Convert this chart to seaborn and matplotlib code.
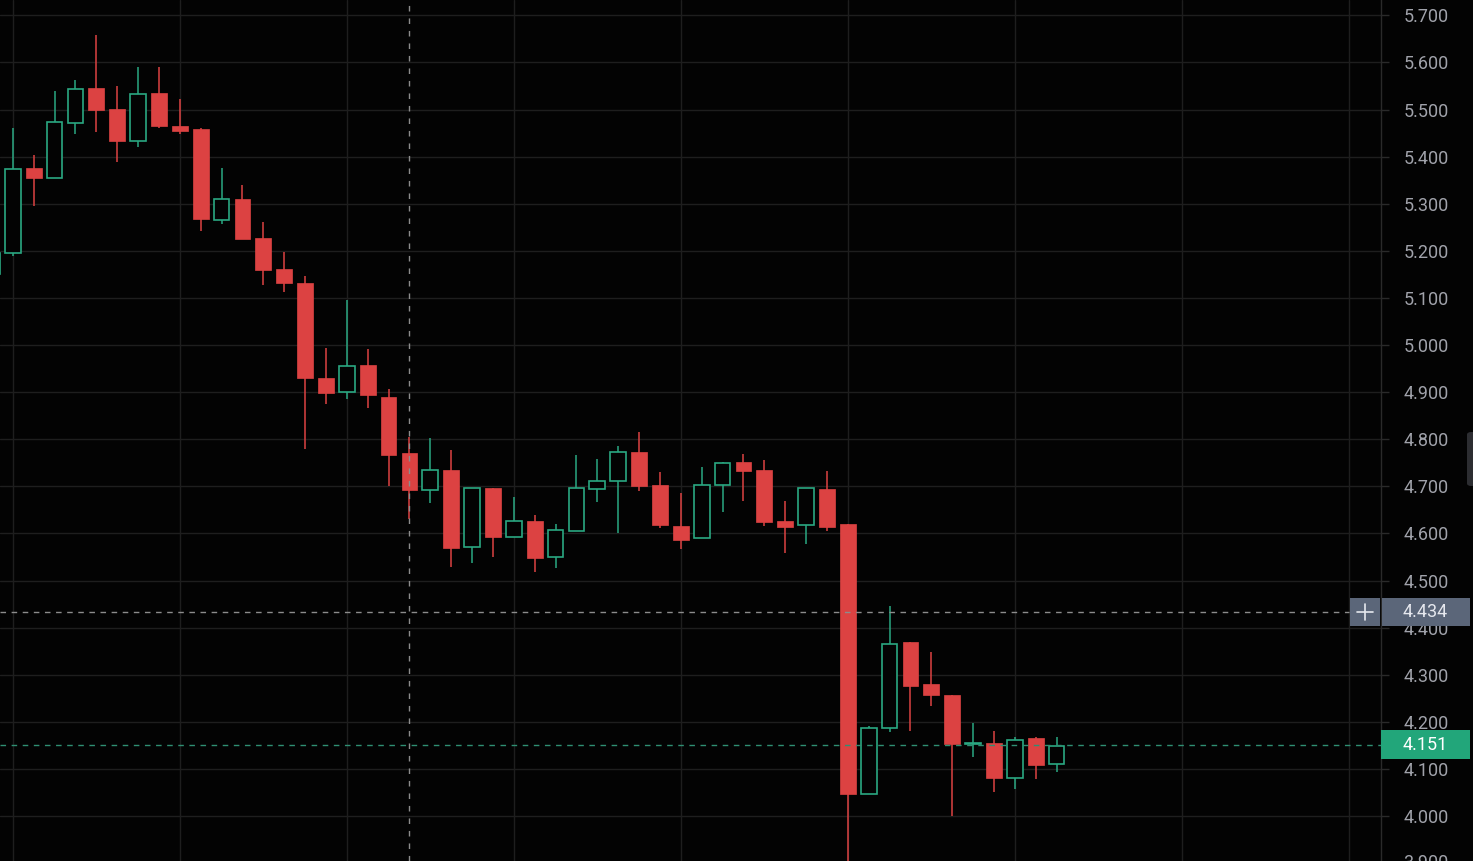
import numpy as np
import pandas as pd
import matplotlib
matplotlib.use("Agg")
import matplotlib.pyplot as plt
import seaborn as sns
from matplotlib.patches import Rectangle, FancyBboxPatch
from matplotlib.transforms import blended_transform_factory

# ---- data (OHLC), index -1 is the partially visible candle at the left edge ----
idx = list(range(-1, 51))
opens = [5.150, 5.196, 5.375, 5.354, 5.472, 5.546, 5.502, 5.434, 5.534, 5.466, 5.458,
         5.265, 5.311, 5.228, 5.161, 5.132, 4.931, 4.900, 4.957, 4.890, 4.770,
         4.692, 4.735, 4.572, 4.696, 4.593, 4.626, 4.549, 4.606, 4.695, 4.711,
         4.772, 4.703, 4.616, 4.590, 4.702, 4.751, 4.735, 4.626, 4.618, 4.694,
         4.620, 4.046, 4.186, 4.369, 4.280, 4.257, 4.153, 4.155, 4.080, 4.165, 4.110]
closes = [5.195, 5.374, 5.354, 5.473, 5.543, 5.499, 5.433, 5.533, 5.465, 5.455, 5.268,
          5.310, 5.226, 5.159, 5.131, 4.931, 4.899, 4.956, 4.893, 4.766, 4.692,
          4.734, 4.570, 4.696, 4.593, 4.626, 4.548, 4.607, 4.696, 4.712, 4.772,
          4.701, 4.618, 4.587, 4.702, 4.750, 4.732, 4.625, 4.614, 4.696, 4.614,
          4.046, 4.187, 4.365, 4.277, 4.256, 4.153, 4.156, 4.080, 4.161, 4.108, 4.149]
highs = [5.200, 5.460, 5.403, 5.540, 5.563, 5.658, 5.550, 5.591, 5.591, 5.522, 5.461,
         5.376, 5.340, 5.262, 5.198, 5.146, 4.993, 5.096, 4.992, 4.907, 4.805,
         4.802, 4.777, 4.697, 4.697, 4.677, 4.639, 4.619, 4.766, 4.757, 4.786,
         4.816, 4.731, 4.686, 4.742, 4.751, 4.769, 4.756, 4.669, 4.697, 4.732,
         4.621, 4.192, 4.446, 4.369, 4.348, 4.257, 4.197, 4.181, 4.167, 4.167, 4.168]
lows = [5.140, 5.190, 5.296, 5.354, 5.449, 5.452, 5.389, 5.421, 5.460, 5.447, 5.241,
        5.257, 5.226, 5.127, 5.112, 4.779, 4.875, 4.885, 4.866, 4.700, 4.630,
        4.664, 4.529, 4.538, 4.550, 4.593, 4.519, 4.527, 4.606, 4.667, 4.600,
        4.690, 4.611, 4.566, 4.590, 4.646, 4.669, 4.616, 4.559, 4.577, 4.606,
        3.880, 4.046, 4.178, 4.181, 4.234, 3.999, 4.125, 4.050, 4.057, 4.079, 4.094]

price_levels = [4.0, 4.1, 4.2, 4.3, 4.4, 4.5, 4.6, 4.7, 4.8, 4.9,
                5.0, 5.1, 5.2, 5.3, 5.4, 5.5, 5.6, 5.7]
crosshair_price = 4.434
crosshair_index = 19
last_price = 4.151

df = pd.DataFrame({"i": idx, "open": opens, "close": closes, "high": highs, "low": lows})
df["up"] = df["close"] >= df["open"]

# ---- style ----
BG = "#030303"
GRID = "#1e1e1e"
RED = "#dc4242"
GREEN = "#2aa882"
TXT = "#a0a2aa"

sns.set_theme(style="dark", rc={
    "axes.facecolor": BG, "figure.facecolor": BG,
    "grid.color": GRID, "axes.edgecolor": "#2a2a2a",
})
plt.rcParams["font.family"] = ["Roboto", "DejaVu Sans"]

W, H = 1473, 861
fig = plt.figure(figsize=(W / 100, H / 100), dpi=100)
ax_right_px = 1381
ax = fig.add_axes([0, 0, ax_right_px / W, 1])
ax.set_facecolor(BG)

step_px = 20.875
x0_px = 12.8
ax.set_xlim(-x0_px / step_px, (ax_right_px - x0_px) / step_px)
ax.set_ylim(3.9045, 5.7325)

# grid
ax.set_xticks(np.arange(0, 72, 8))
ax.set_yticks(price_levels)
ax.grid(True, color=GRID, linewidth=1.0)
ax.set_axisbelow(True)

body_w = 0.75
up = df[df["up"]]
dn = df[~df["up"]]

# wicks
ax.vlines(dn["i"], dn["low"], dn["high"], color=RED, linewidth=1.1, zorder=2)
ax.vlines(up["i"], up["close"], up["high"], color=GREEN, linewidth=1.1, zorder=2)
ax.vlines(up["i"], up["low"], up["open"], color=GREEN, linewidth=1.1, zorder=2)

# bodies
ax.bar(dn["i"], dn["open"] - dn["close"], bottom=dn["close"], width=body_w,
       color=RED, edgecolor=RED, linewidth=0.5, zorder=3)
ax.bar(up["i"], np.maximum(up["close"] - up["open"], 0.0008), bottom=up["open"], width=body_w,
       color=BG, edgecolor=GREEN, linewidth=1.2, zorder=3)

# crosshair & last price lines
ax.axhline(crosshair_price, xmax=1349 / ax_right_px, color="#8c8c8c", linewidth=1.0,
           dashes=(4, 4), zorder=4)
ax.axvline(crosshair_index, color="#8c8c8c", linewidth=1.0, dashes=(4, 5), zorder=4)
ax.axhline(last_price, color="#2f8f73", linewidth=1.0, dashes=(4, 4), zorder=4)

# right price axis
ax.yaxis.tick_right()
ax.set_yticklabels([f"{v:.3f}" for v in price_levels])
ax.tick_params(axis="y", which="both", direction="out", length=6, width=1,
               color="#2a2a2a", labelcolor=TXT, labelsize=13, pad=10, right=True, left=False)
ax.tick_params(axis="x", bottom=False, labelbottom=False)
for lbl in ax.get_yticklabels():
    lbl.set_horizontalalignment("left")
for side in ["top", "bottom", "left"]:
    ax.spines[side].set_visible(False)
ax.spines["right"].set_color("#2a2a2a")
ax.spines["right"].set_linewidth(1.0)

# partially visible 3.900 label at the bottom (cut off as in the reference)
btr = blended_transform_factory(fig.transFigure, ax.transData)
fig.text(1403 / W, 3.9, "3.900", transform=btr, color=TXT, fontsize=13,
         va="center", ha="left")

# crosshair price box
box_h = 28 / 471.0
fig.patches.append(Rectangle((1382 / W, crosshair_price - box_h / 2), 88 / W, box_h,
                             transform=btr, facecolor="#5b6679", edgecolor="none", zorder=5))
fig.patches.append(Rectangle((1350 / W, crosshair_price - box_h / 2), 29.5 / W, box_h,
                             transform=btr, facecolor="#5b6679", edgecolor="none", zorder=5))
fig.text(1403 / W, crosshair_price, f"{crosshair_price:.3f}", transform=btr,
         color="#e6e8ee", fontsize=13, va="center", ha="left", zorder=6)
# plus icon
pl = 8 / 471.0
fig.lines.append(plt.Line2D([1357 / W, 1373 / W], [crosshair_price, crosshair_price],
                            transform=btr, color="#e6e8ee", linewidth=1.2, zorder=6))
fig.lines.append(plt.Line2D([1365 / W, 1365 / W], [crosshair_price - pl, crosshair_price + pl],
                            transform=btr, color="#e6e8ee", linewidth=1.2, zorder=6))

# last price box
box_h2 = 29 / 471.0
fig.patches.append(Rectangle((1381 / W, last_price - box_h2 / 2), 89 / W, box_h2,
                             transform=btr, facecolor="#22a67a", edgecolor="none", zorder=5))
fig.text(1403 / W, last_price, f"{last_price:.3f}", transform=btr,
         color="#ffffff", fontsize=13, va="center", ha="left", zorder=6)

# small side tab
fig.patches.append(FancyBboxPatch((1467 / W, (861 - 486) / H), 10 / W, 54 / H,
                                  boxstyle="round,pad=0,rounding_size=0.003",
                                  transform=fig.transFigure, facecolor="#2c2d31",
                                  edgecolor="none", zorder=5))

fig.savefig("out.png", dpi=100, facecolor=BG)
